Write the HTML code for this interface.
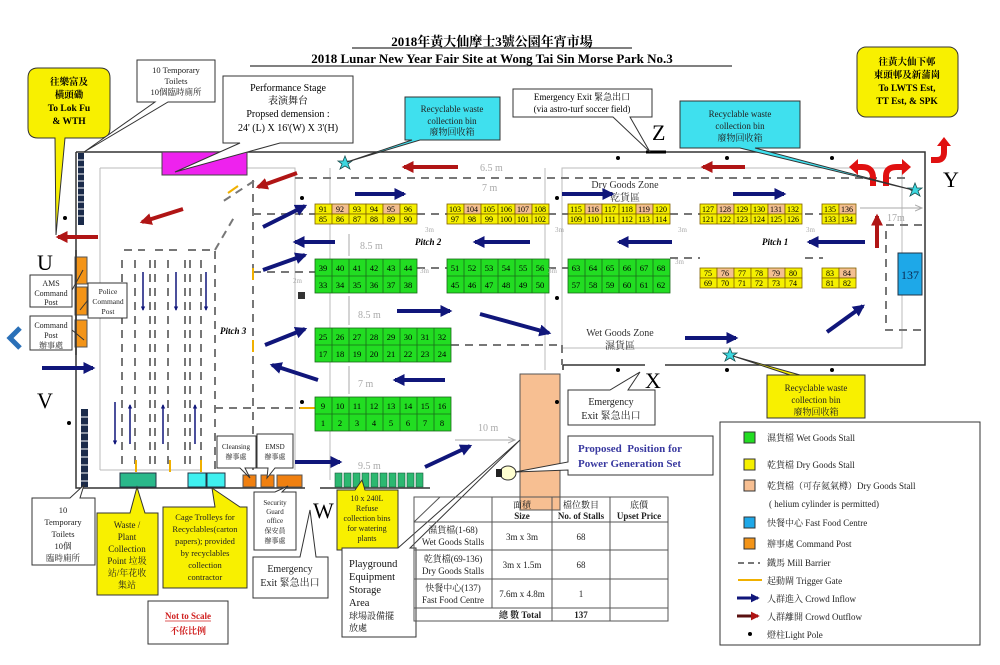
<!DOCTYPE html>
<html><head><meta charset="utf-8">
<style>
html,body{margin:0;padding:0;background:#fff;}
svg{display:block;}
text{font-family:"Liberation Serif","Noto Serif CJK SC","Noto Sans CJK TC",serif;}
.s{font-family:"Liberation Sans","Noto Sans CJK TC",sans-serif;}
.dc{font-size:8px;text-anchor:middle;}
.gc{font-size:8.5px;text-anchor:middle;}
</style></head><body>
<svg width="1000" height="665" viewBox="0 0 1000 665" xmlns="http://www.w3.org/2000/svg">
<defs>
<marker id="bh" viewBox="0 0 5 5" markerWidth="3" markerHeight="3" refX="4" refY="2.5" orient="auto" markerUnits="strokeWidth"><path d="M0,0 L5,2.5 L0,5 z" fill="#10167a"/></marker>
<marker id="rh" viewBox="0 0 5 5" markerWidth="3" markerHeight="3" refX="4" refY="2.5" orient="auto" markerUnits="strokeWidth"><path d="M0,0 L5,2.5 L0,5 z" fill="#b01515"/></marker>
<marker id="gh" markerWidth="8" markerHeight="8" refX="7" refY="4" orient="auto" markerUnits="userSpaceOnUse"><path d="M0,1 L7,4 L0,7" fill="none" stroke="#aaa" stroke-width="1"/></marker>
</defs>

<!-- Title -->
<text x="492" y="46" font-size="13" font-weight="bold" text-anchor="middle">2018年黃大仙摩士3號公園年宵市場</text>
<text x="492" y="63" font-size="13" font-weight="bold" text-anchor="middle">2018 Lunar New Year Fair Site at Wong Tai Sin Morse Park No.3</text>
<line x1="352" y1="48" x2="632" y2="48" stroke="#000" stroke-width="1"/>
<line x1="250" y1="66" x2="732" y2="66" stroke="#000" stroke-width="1"/>

<!-- Site boundary -->
<g stroke="#333" stroke-width="1.5" fill="none">
<polyline points="76,152 925,152 925,365 665,365"/>
<polyline points="645,365 563,365 563,370"/>
<polyline points="76,152 76,488 305,488"/>
<line x1="320" y1="488" x2="430" y2="488"/>
</g>
<g stroke="#bbb" stroke-width="1" fill="none">
<polyline points="100,168 162,168"/>
<polyline points="247,168 295,168 295,470"/>
<line x1="100" y1="168" x2="100" y2="470"/>
<line x1="100" y1="470" x2="200" y2="470"/>
<rect x="562" y="168" width="340" height="180"/>
<line x1="330" y1="168" x2="330" y2="480"/>
<line x1="545" y1="168" x2="545" y2="370"/>
</g>
<g stroke="#777" stroke-width="2" fill="none" stroke-dasharray="8,6">
<line x1="295" y1="178" x2="905" y2="178"/>
<line x1="254" y1="181" x2="222" y2="202"/>
<line x1="253" y1="180" x2="253" y2="272"/>
<line x1="253" y1="272" x2="315" y2="272"/>
<line x1="417" y1="268" x2="447" y2="268"/>
<line x1="548" y1="268" x2="568" y2="268"/>
<line x1="670" y1="258" x2="700" y2="258"/>
<line x1="805" y1="258" x2="823" y2="258"/>
<line x1="417" y1="214" x2="447" y2="214"/>
<line x1="548" y1="214" x2="568" y2="214"/>
<line x1="670" y1="214" x2="700" y2="214"/>
<line x1="805" y1="214" x2="823" y2="214"/>
<line x1="253" y1="214" x2="315" y2="214"/>
<line x1="451" y1="345" x2="562" y2="345"/>
<line x1="562" y1="345" x2="562" y2="365"/>
<polyline points="922,225 886,225 886,330 922,330"/>
<line x1="215" y1="408" x2="315" y2="408"/>
<line x1="253" y1="272" x2="253" y2="470"/>
<polyline points="122,260 122,470"/>
<polyline points="124,250 145,250"/>
<polyline points="155,250 180,250"/>
<polyline points="188,250 215,250 215,470"/>
<line x1="135" y1="260" x2="135" y2="470"/>
<line x1="150" y1="260" x2="150" y2="470"/>
<line x1="155" y1="260" x2="155" y2="470"/>
<line x1="168" y1="260" x2="168" y2="470"/>
<line x1="185" y1="260" x2="185" y2="470"/>
<line x1="190" y1="260" x2="190" y2="470"/>
<line x1="201" y1="260" x2="201" y2="470"/>
<line x1="215" y1="250" x2="236" y2="214"/>
<line x1="100" y1="318" x2="120" y2="300"/>
</g>
<g stroke="#f0b000" stroke-width="2">
<line x1="228" y1="193" x2="238" y2="186"/>
<line x1="253" y1="268" x2="253" y2="280"/>
<line x1="253" y1="340" x2="253" y2="352"/>
<line x1="136" y1="460" x2="136" y2="472"/>
<line x1="170" y1="460" x2="170" y2="472"/>
<line x1="201" y1="460" x2="201" y2="472"/>
<line x1="300" y1="408" x2="315" y2="408"/>
</g>

<rect x="162" y="152" width="85" height="23" fill="#ee22ee" stroke="#444" stroke-width="1"/>

<rect x="78" y="153" width="6" height="72" fill="#1a2a4a"/>
<g stroke="#fff" stroke-width="1"><line x1="78" y1="160" x2="84" y2="160"/><line x1="78" y1="167" x2="84" y2="167"/><line x1="78" y1="174" x2="84" y2="174"/><line x1="78" y1="181" x2="84" y2="181"/><line x1="78" y1="188" x2="84" y2="188"/><line x1="78" y1="195" x2="84" y2="195"/><line x1="78" y1="202" x2="84" y2="202"/><line x1="78" y1="209" x2="84" y2="209"/><line x1="78" y1="216" x2="84" y2="216"/></g>
<rect x="81" y="409" width="7" height="78" fill="#1a2a4a"/>
<g stroke="#fff" stroke-width="1"><line x1="81" y1="417" x2="88" y2="417"/><line x1="81" y1="425" x2="88" y2="425"/><line x1="81" y1="433" x2="88" y2="433"/><line x1="81" y1="441" x2="88" y2="441"/><line x1="81" y1="449" x2="88" y2="449"/><line x1="81" y1="457" x2="88" y2="457"/><line x1="81" y1="465" x2="88" y2="465"/><line x1="81" y1="473" x2="88" y2="473"/><line x1="81" y1="481" x2="88" y2="481"/></g>

<rect x="75" y="257" width="12" height="27" fill="#f39418" stroke="#555"/>
<rect x="75" y="287" width="12" height="28" fill="#f39418" stroke="#555"/>
<rect x="75" y="320" width="12" height="27" fill="#f39418" stroke="#555"/>
<line x1="76" y1="250" x2="76" y2="355" stroke="#333" stroke-width="1.5"/>

<g stroke="#806000" stroke-width="0.8">
<rect x="315" y="204" width="17" height="10" fill="#f5f000"/><rect x="332" y="204" width="17" height="10" fill="#f3bf90"/><rect x="349" y="204" width="17" height="10" fill="#f5f000"/><rect x="366" y="204" width="17" height="10" fill="#f5f000"/><rect x="383" y="204" width="17" height="10" fill="#f3bf90"/><rect x="400" y="204" width="17" height="10" fill="#f5f000"/>
<rect x="315" y="214" width="102" height="10" fill="#f5f000"/>
<rect x="447" y="204" width="17" height="10" fill="#f5f000"/><rect x="464" y="204" width="17" height="10" fill="#f3bf90"/><rect x="481" y="204" width="17" height="10" fill="#f5f000"/><rect x="498" y="204" width="17" height="10" fill="#f5f000"/><rect x="515" y="204" width="17" height="10" fill="#f3bf90"/><rect x="532" y="204" width="17" height="10" fill="#f5f000"/>
<rect x="447" y="214" width="102" height="10" fill="#f5f000"/>
<rect x="568" y="204" width="17" height="10" fill="#f5f000"/><rect x="585" y="204" width="17" height="10" fill="#f3bf90"/><rect x="602" y="204" width="17" height="10" fill="#f5f000"/><rect x="619" y="204" width="17" height="10" fill="#f5f000"/><rect x="636" y="204" width="17" height="10" fill="#f3bf90"/><rect x="653" y="204" width="17" height="10" fill="#f5f000"/>
<rect x="568" y="214" width="102" height="10" fill="#f5f000"/>
<rect x="700" y="204" width="17" height="10" fill="#f5f000"/><rect x="717" y="204" width="17" height="10" fill="#f3bf90"/><rect x="734" y="204" width="17" height="10" fill="#f5f000"/><rect x="751" y="204" width="17" height="10" fill="#f5f000"/><rect x="768" y="204" width="17" height="10" fill="#f3bf90"/><rect x="785" y="204" width="17" height="10" fill="#f5f000"/>
<rect x="700" y="214" width="102" height="10" fill="#f5f000"/>
<rect x="822" y="204" width="17" height="10" fill="#f5f000"/><rect x="839" y="204" width="17" height="10" fill="#f3bf90"/>
<rect x="822" y="214" width="34" height="10" fill="#f5f000"/>
<rect x="700" y="268" width="17" height="10" fill="#f5f000"/><rect x="717" y="268" width="17" height="10" fill="#f3bf90"/><rect x="734" y="268" width="17" height="10" fill="#f5f000"/><rect x="751" y="268" width="17" height="10" fill="#f5f000"/><rect x="768" y="268" width="17" height="10" fill="#f3bf90"/><rect x="785" y="268" width="17" height="10" fill="#f5f000"/>
<rect x="700" y="278" width="102" height="10" fill="#f5f000"/>
<rect x="822" y="268" width="17" height="10" fill="#f5f000"/><rect x="839" y="268" width="17" height="10" fill="#f3bf90"/>
<rect x="822" y="278" width="34" height="10" fill="#f5f000"/>
<path d="M332,214v10M349,214v10M366,214v10M383,214v10M400,214v10 M464,214v10M481,214v10M498,214v10M515,214v10M532,214v10 M585,214v10M602,214v10M619,214v10M636,214v10M653,214v10 M717,214v10M734,214v10M751,214v10M768,214v10M785,214v10 M839,214v10 M717,278v10M734,278v10M751,278v10M768,278v10M785,278v10 M839,278v10" fill="none"/>
</g>
<g class="dc">
<text x="323" y="212">91</text><text x="340" y="212">92</text><text x="357" y="212">93</text><text x="374" y="212">94</text><text x="391" y="212">95</text><text x="408" y="212">96</text>
<text x="323" y="222">85</text><text x="340" y="222">86</text><text x="357" y="222">87</text><text x="374" y="222">88</text><text x="391" y="222">89</text><text x="408" y="222">90</text>
<text x="455" y="212">103</text><text x="472" y="212">104</text><text x="489" y="212">105</text><text x="506" y="212">106</text><text x="523" y="212">107</text><text x="540" y="212">108</text>
<text x="455" y="222">97</text><text x="472" y="222">98</text><text x="489" y="222">99</text><text x="506" y="222">100</text><text x="523" y="222">101</text><text x="540" y="222">102</text>
<text x="576" y="212">115</text><text x="593" y="212">116</text><text x="610" y="212">117</text><text x="627" y="212">118</text><text x="644" y="212">119</text><text x="661" y="212">120</text>
<text x="576" y="222">109</text><text x="593" y="222">110</text><text x="610" y="222">111</text><text x="627" y="222">112</text><text x="644" y="222">113</text><text x="661" y="222">114</text>
<text x="708" y="212">127</text><text x="725" y="212">128</text><text x="742" y="212">129</text><text x="759" y="212">130</text><text x="776" y="212">131</text><text x="793" y="212">132</text>
<text x="708" y="222">121</text><text x="725" y="222">122</text><text x="742" y="222">123</text><text x="759" y="222">124</text><text x="776" y="222">125</text><text x="793" y="222">126</text>
<text x="830" y="212">135</text><text x="847" y="212">136</text><text x="830" y="222">133</text><text x="847" y="222">134</text>
<text x="708" y="276">75</text><text x="725" y="276">76</text><text x="742" y="276">77</text><text x="759" y="276">78</text><text x="776" y="276">79</text><text x="793" y="276">80</text>
<text x="708" y="286">69</text><text x="725" y="286">70</text><text x="742" y="286">71</text><text x="759" y="286">72</text><text x="776" y="286">73</text><text x="793" y="286">74</text>
<text x="830" y="276">83</text><text x="847" y="276">84</text><text x="830" y="286">81</text><text x="847" y="286">82</text>
</g>

<g fill="#22dd22" stroke="#1a6a1a" stroke-width="0.8">
<rect x="315" y="259" width="102" height="34"/><rect x="447" y="259" width="102" height="34"/><rect x="568" y="259" width="102" height="34"/>
<rect x="315" y="328" width="136" height="34"/><rect x="315" y="397" width="136" height="34"/>
<path fill="none" d="M315,276h102M447,276h102M568,276h102M315,345h136M315,414h136
M332,259v34M349,259v34M366,259v34M383,259v34M400,259v34
M464,259v34M481,259v34M498,259v34M515,259v34M532,259v34
M585,259v34M602,259v34M619,259v34M636,259v34M653,259v34
M332,328v34M349,328v34M366,328v34M383,328v34M400,328v34M417,328v34M434,328v34
M332,397v34M349,397v34M366,397v34M383,397v34M400,397v34M417,397v34M434,397v34"/>
</g>
<g class="gc">
<text x="323" y="271">39</text><text x="340" y="271">40</text><text x="357" y="271">41</text><text x="374" y="271">42</text><text x="391" y="271">43</text><text x="408" y="271">44</text>
<text x="323" y="288">33</text><text x="340" y="288">34</text><text x="357" y="288">35</text><text x="374" y="288">36</text><text x="391" y="288">37</text><text x="408" y="288">38</text>
<text x="455" y="271">51</text><text x="472" y="271">52</text><text x="489" y="271">53</text><text x="506" y="271">54</text><text x="523" y="271">55</text><text x="540" y="271">56</text>
<text x="455" y="288">45</text><text x="472" y="288">46</text><text x="489" y="288">47</text><text x="506" y="288">48</text><text x="523" y="288">49</text><text x="540" y="288">50</text>
<text x="576" y="271">63</text><text x="593" y="271">64</text><text x="610" y="271">65</text><text x="627" y="271">66</text><text x="644" y="271">67</text><text x="661" y="271">68</text>
<text x="576" y="288">57</text><text x="593" y="288">58</text><text x="610" y="288">59</text><text x="627" y="288">60</text><text x="644" y="288">61</text><text x="661" y="288">62</text>
<text x="323" y="340">25</text><text x="340" y="340">26</text><text x="357" y="340">27</text><text x="374" y="340">28</text><text x="391" y="340">29</text><text x="408" y="340">30</text><text x="425" y="340">31</text><text x="442" y="340">32</text>
<text x="323" y="357">17</text><text x="340" y="357">18</text><text x="357" y="357">19</text><text x="374" y="357">20</text><text x="391" y="357">21</text><text x="408" y="357">22</text><text x="425" y="357">23</text><text x="442" y="357">24</text>
<text x="323" y="409">9</text><text x="340" y="409">10</text><text x="357" y="409">11</text><text x="374" y="409">12</text><text x="391" y="409">13</text><text x="408" y="409">14</text><text x="425" y="409">15</text><text x="442" y="409">16</text>
<text x="323" y="426">1</text><text x="340" y="426">2</text><text x="357" y="426">3</text><text x="374" y="426">4</text><text x="391" y="426">5</text><text x="408" y="426">6</text><text x="425" y="426">7</text><text x="442" y="426">8</text>
</g>

<rect x="898" y="253" width="24" height="42" fill="#1ea8e8" stroke="#234" stroke-width="1"/>
<text x="910" y="279" font-size="12" text-anchor="middle" fill="#0a2a50">137</text>

<rect x="520" y="374" width="40" height="136" fill="#f7bf92" stroke="#555" stroke-width="1"/>

<g class="s" font-size="10" fill="#aaa">
<text x="480" y="171">6.5 m</text><text x="482" y="191">7 m</text>
<text x="360" y="249">8.5 m</text><text x="358" y="318">8.5 m</text><text x="358" y="387">7 m</text>
<text x="478" y="431">10 m</text><text x="358" y="469">9.5 m</text><text x="887" y="221">17m</text>
</g>
<g font-size="7" fill="#aaa"><text x="425" y="232">3m</text><text x="555" y="232">3m</text><text x="678" y="232">3m</text><text x="806" y="232">3m</text><text x="420" y="273">3m</text><text x="548" y="273">3m</text><text x="675" y="264">3m</text><text x="293" y="283">2m</text></g>
<g stroke="#aaa" stroke-width="1"><line x1="349" y1="234" x2="349" y2="256"/><line x1="349" y1="296" x2="349" y2="325"/><line x1="349" y1="366" x2="349" y2="394"/><line x1="455" y1="440" x2="515" y2="440" marker-end="url(#gh)"/><line x1="860" y1="208" x2="922" y2="208" marker-end="url(#gh)"/></g>

<text x="415" y="245" font-size="9" font-style="italic" font-weight="bold">Pitch 2</text>
<text x="762" y="245" font-size="9" font-style="italic" font-weight="bold">Pitch 1</text>
<text x="220" y="334" font-size="9" font-style="italic" font-weight="bold">Pitch 3</text>
<text x="625" y="188" font-size="10" text-anchor="middle" fill="#333">Dry Goods Zone</text>
<text x="625" y="201" font-size="10" text-anchor="middle" fill="#333">乾貨區</text>
<text x="620" y="336" font-size="10" text-anchor="middle" fill="#333">Wet Goods Zone</text>
<text x="620" y="349" font-size="10" text-anchor="middle" fill="#333">濕貨區</text>

<g fill="#000"><circle cx="65" cy="218" r="2"/><circle cx="302" cy="198" r="2"/><circle cx="557" cy="198" r="2"/><circle cx="557" cy="298" r="2"/><circle cx="618" cy="158" r="2"/><circle cx="727" cy="158" r="2"/><circle cx="832" cy="158" r="2"/><circle cx="69" cy="423" r="2"/><circle cx="302" cy="402" r="2"/><circle cx="618" cy="370" r="2"/><circle cx="727" cy="370" r="2"/><circle cx="832" cy="370" r="2"/><circle cx="557" cy="402" r="2"/></g>

<g stroke="#10167a" stroke-width="4" fill="none" marker-end="url(#bh)">
<line x1="355" y1="194" x2="404" y2="194"/><line x1="562" y1="194" x2="612" y2="194"/><line x1="733" y1="194" x2="784" y2="194"/>
<line x1="335" y1="242" x2="295" y2="242"/><line x1="530" y1="242" x2="475" y2="242"/><line x1="672" y1="242" x2="619" y2="242"/><line x1="865" y1="242" x2="809" y2="242"/>
<line x1="397" y1="311" x2="450" y2="311"/><line x1="480" y1="314" x2="549" y2="333"/>
<line x1="445" y1="380" x2="395" y2="380"/>
<line x1="685" y1="338" x2="736" y2="338"/>
<line x1="827" y1="332" x2="863" y2="306"/>
<line x1="263" y1="227" x2="305" y2="206"/><line x1="263" y1="270" x2="305" y2="255"/>
<line x1="265" y1="345" x2="305" y2="329"/><line x1="318" y1="380" x2="272" y2="365"/>
<line x1="295" y1="462" x2="340" y2="462"/><line x1="425" y1="467" x2="470" y2="446"/>
<line x1="42" y1="368" x2="93" y2="368"/>
</g>
<g stroke="#10167a" stroke-width="1.5" fill="none" marker-end="url(#bh)">
<line x1="143" y1="272" x2="143" y2="310"/><line x1="176" y1="272" x2="176" y2="310"/><line x1="206" y1="272" x2="206" y2="310"/>
<line x1="115" y1="402" x2="115" y2="444"/><line x1="130" y1="444" x2="130" y2="405"/><line x1="163" y1="444" x2="163" y2="405"/><line x1="195" y1="444" x2="195" y2="405"/>
</g>
<g stroke="#b01515" stroke-width="4" fill="none" marker-end="url(#rh)">
<line x1="98" y1="237" x2="58" y2="237"/><line x1="183" y1="209" x2="142" y2="222"/><line x1="297" y1="173" x2="258" y2="187"/>
<line x1="458" y1="167" x2="404" y2="167"/><line x1="745" y1="167" x2="703" y2="167"/><line x1="877" y1="248" x2="877" y2="216"/>
</g>
<g stroke="#e01010" stroke-width="6" fill="none">
<path d="M873,186 V178 Q873,167 862,167 H858"/><path d="M886,186 V176 Q886,167 897,167 H902"/><path d="M931,160 H937 Q944,160 944,152 V146"/>
</g>
<g fill="#e01010"><path d="M858,159 L849,167 L858,175 z"/><path d="M902,159 L911,167 L902,175 z"/><path d="M937,146 L944,137 L951,146 z"/></g>

<g fill="#3cd8e0" stroke="#1a5050" stroke-width="0.8">
<path d="M345,156 l2,5 5,0 -4,3 2,5 -5,-3 -5,3 2,-5 -4,-3 5,0z"/>
<path d="M915,183 l2,5 5,0 -4,3 2,5 -5,-3 -5,3 2,-5 -4,-3 5,0z"/>
<path d="M730,348 l2,5 5,0 -4,3 2,5 -5,-3 -5,3 2,-5 -4,-3 5,0z"/>
</g>

<rect x="120" y="473" width="36" height="14" fill="#2ab88a" stroke="#234"/>
<rect x="188" y="473" width="18" height="14" fill="#3ff0f0" stroke="#234"/><rect x="207" y="473" width="18" height="14" fill="#3ff0f0" stroke="#234"/>
<rect x="243" y="475" width="13" height="12" fill="#f08010" stroke="#555"/><rect x="261" y="475" width="13" height="12" fill="#f08010" stroke="#555"/><rect x="277" y="475" width="25" height="12" fill="#f08010" stroke="#555"/>
<g fill="#2cb870" stroke="#1a5a3a" stroke-width="0.6"><rect x="335" y="473" width="7" height="14"/><rect x="344" y="473" width="7" height="14"/><rect x="353" y="473" width="7" height="14"/><rect x="362" y="473" width="7" height="14"/><rect x="371" y="473" width="7" height="14"/><rect x="380" y="473" width="7" height="14"/><rect x="389" y="473" width="7" height="14"/><rect x="398" y="473" width="7" height="14"/><rect x="407" y="473" width="7" height="14"/><rect x="416" y="473" width="7" height="14"/></g>
<ellipse cx="508" cy="473" rx="8" ry="7" fill="#ffffd0" stroke="#333"/><rect x="496" y="469" width="6" height="8" fill="#222"/>
<rect x="298" y="292" width="7" height="7" fill="#333"/>
<path d="M20,328 L10,338 L20,348" stroke="#2a70b8" stroke-width="5" fill="none"/>

<g font-size="22"><text x="37" y="270">U</text><text x="37" y="408">V</text><text x="313" y="518">W</text><text x="645" y="388">X</text><text x="652" y="140">Z</text><text x="943" y="187">Y</text></g>
<line x1="646" y1="152" x2="666" y2="152" stroke="#000" stroke-width="3"/>

<g stroke="#333" stroke-width="1" fill="#fff">
<path d="M38,68 H100 Q110,68 110,78 V128 Q110,138 100,138 H65 L56,235 L55,138 H38 Q28,138 28,128 V78 Q28,68 38,68z" fill="#f8f000"/>
<path d="M137,60 H215 V102 H168 L84,152 L155,102 H137z"/>
<path d="M223,76 H353 V143 H280 L175,172 L240,143 H223z"/>
<path d="M405,97 H500 V140 H420 L347,162 L412,140 H405z" fill="#3fe0ee"/>
<path d="M513,89 H652 V117 H630 L650,152 L613,117 H513z"/>
<path d="M680,101 H800 V148 H755 L913,190 L740,148 H680z" fill="#3fe0ee"/>
<rect x="857" y="47" width="101" height="70" rx="9" fill="#f8f000"/>
<path d="M30,275 H72 V307 H30z"/><line x1="72" y1="290" x2="83" y2="270"/>
<path d="M88,283 H127 V318 H88z"/><line x1="88" y1="300" x2="80" y2="310"/>
<path d="M30,316 H72 V350 H30z"/><line x1="72" y1="330" x2="84" y2="340"/>
<path d="M32,498 H70 L84,485 L80,498 H95 V565 H32z"/>
<path d="M97,513 H130 L137,487 L145,513 H158 V595 H97z" fill="#f8f000"/>
<path d="M163,507 H215 L212,488 L240,507 H247 V588 H163z" fill="#f8f000"/>
<path d="M217,436 H256 V468 H245 L250,478 L240,468 H217z"/>
<path d="M257,434 H293 V468 H275 L267,478 L268,468 H257z"/>
<path d="M254,492 H275 L288,486 L282,492 H296 V550 H254z"/>
<path d="M253,557 H300 L310,510 L316,557 H328 V598 H253z"/>
<rect x="148" y="601" width="80" height="43"/>
<path d="M337,490 H355 L362,480 L365,490 H398 V550 H337z" fill="#f8f000"/>
<path d="M342,548 H398 L520,440 L410,548 H416 V637 H342z"/>
<path d="M568,390 H610 L640,372 L628,390 H655 V425 H568z"/>
<path d="M568,436 H713 V475 H568 V470 L515,472 L568,462z"/>
<path d="M767,375 H865 V418 H767z M790,375 L733,356 L800,375" fill="#f8f000"/>
<rect x="720" y="422" width="260" height="223"/>
</g>

<g class="s" font-weight="bold" font-size="9.5" text-anchor="middle">
<text x="69" y="85">往樂富及</text><text x="69" y="98">橫頭磡</text><text x="69" y="111">To Lok Fu</text><text x="69" y="124">&amp; WTH</text>
<text x="907" y="65">往黃大仙下邨</text><text x="907" y="78">東頭邨及新蒲崗</text><text x="907" y="91">To LWTS Est,</text><text x="907" y="104">TT Est, &amp; SPK</text>
</g>
<g class="s" font-size="8.5" text-anchor="middle" fill="#222">
<text x="176" y="73">10 Temporary</text><text x="176" y="84">Toilets</text><text x="176" y="95">10個臨時廁所</text>
<text x="63" y="513">10</text><text x="63" y="525">Temporary</text><text x="63" y="537">Toilets</text><text x="63" y="549">10個</text><text x="63" y="561">臨時廁所</text>
<text x="290" y="572" font-size="10">Emergency</text><text x="290" y="586" font-size="10">Exit 緊急出口</text>
<text x="611" y="405" font-size="10">Emergency</text><text x="611" y="419" font-size="10">Exit 緊急出口</text>
<text x="367" y="501" font-size="8">10 x 240L</text><text x="367" y="511" font-size="8">Refuse</text><text x="367" y="521" font-size="8">collection bins</text><text x="367" y="531" font-size="8">for watering</text><text x="367" y="541" font-size="8">plants</text>
</g>
<g class="s" font-size="10.5" fill="#111"><text x="349" y="567">Playground</text><text x="349" y="580">Equipment</text><text x="349" y="593">Storage</text><text x="349" y="606">Area</text><text x="349" y="619" font-size="9">球場設備擺</text><text x="349" y="631" font-size="9">放處</text></g>
<g font-size="10" text-anchor="middle">
<text x="288" y="91">Performance Stage</text><text x="288" y="104">表演舞台</text><text x="288" y="117">Propsed demension :</text><text x="288" y="131">24' (L) X 16'(W) X 3'(H)</text>
<text x="582" y="100" font-size="9">Emergency  Exit 緊急出口</text><text x="582" y="112" font-size="9">(via astro-turf soccer field)</text>
</g>
<g font-size="9" text-anchor="middle" fill="#222">
<text x="452" y="112">Recyclable waste</text><text x="452" y="124">collection bin</text><text x="452" y="135">廢物回收箱</text>
<text x="740" y="117">Recyclable waste</text><text x="740" y="129">collection bin</text><text x="740" y="141">廢物回收箱</text>
<text x="816" y="391">Recyclable waste</text><text x="816" y="403">collection bin</text><text x="816" y="415">廢物回收箱</text>
<text x="51" y="286" font-size="8">AMS</text><text x="51" y="296" font-size="8">Command</text><text x="51" y="305" font-size="8">Post</text>
<text x="108" y="294" font-size="7.5">Police</text><text x="108" y="304" font-size="7.5">Command</text><text x="108" y="314" font-size="7.5">Post</text>
<text x="51" y="328" font-size="8">Command</text><text x="51" y="338" font-size="8">Post</text><text x="51" y="348" font-size="8">辦事處</text>
<text x="127" y="528">Waste /</text><text x="127" y="540">Plant</text><text x="127" y="552">Collection</text><text x="127" y="564">Point 垃圾</text><text x="127" y="576">站/年花收</text><text x="127" y="588">集站</text>
<text x="205" y="520" font-size="8.5">Cage Trolleys for</text><text x="205" y="532" font-size="8.5">Recyclables(carton</text><text x="205" y="544" font-size="8.5">papers); provided</text><text x="205" y="556" font-size="8.5">by recyclables</text><text x="205" y="568" font-size="8.5">collection</text><text x="205" y="580" font-size="8.5">contractor</text>
<text x="236" y="449" font-size="7">Cleansing</text><text x="236" y="459" font-size="7">辦事處</text>
<text x="275" y="449" font-size="7">EMSD</text><text x="275" y="459" font-size="7">辦事處</text>
<text x="275" y="505" font-size="7">Security</text><text x="275" y="514" font-size="7">Guard</text><text x="275" y="523" font-size="7">office</text><text x="275" y="533" font-size="7">保安員</text><text x="275" y="543" font-size="7">辦事處</text>
<text x="188" y="619" fill="#d02020" font-weight="bold">Not to Scale</text><text x="188" y="634" fill="#d02020" font-weight="bold">不依比例</text>
</g>
<line x1="165" y1="621" x2="211" y2="621" stroke="#d02020" stroke-width="0.8"/>
<g font-size="11" font-weight="bold" fill="#3a3aa0"><text x="578" y="452" xml:space="preserve">Proposed  Position for</text><text x="578" y="467">Power Generation Set</text></g>

<g stroke="#555" stroke-width="1" fill="none">
<rect x="414" y="497" width="254" height="124"/>
<path d="M492,497V608M552,497V621M610,497V621M414,522H668M414,550H668M414,579H668M414,608H668"/>
<line x1="414" y1="522" x2="440" y2="497"/>
</g>
<g class="s" font-size="9" text-anchor="middle" fill="#222">
<text x="522" y="508">面積</text><text x="522" y="519" font-weight="bold">Size</text>
<text x="581" y="508">檔位數目</text><text x="581" y="519" font-weight="bold">No. of Stalls</text>
<text x="639" y="508">底價</text><text x="639" y="519" font-weight="bold">Upset Price</text>
<text x="453" y="533">濕貨檔(1-68)</text><text x="453" y="545">Wet Goods Stalls</text><text x="522" y="540">3m x 3m</text><text x="581" y="540">68</text>
<text x="453" y="562">乾貨檔(69-136)</text><text x="453" y="574">Dry Goods Stalls</text><text x="522" y="568">3m x 1.5m</text><text x="581" y="568">68</text>
<text x="453" y="591">快餐中心(137)</text><text x="453" y="603">Fast Food Centre</text><text x="522" y="597">7.6m x 4.8m</text><text x="581" y="597">1</text>
<text x="520" y="618" font-weight="bold">總 數 Total</text><text x="581" y="618" font-weight="bold">137</text>
</g>

<g stroke="#333" stroke-width="1">
<rect x="744" y="432" width="11" height="11" fill="#22dd22"/>
<rect x="744" y="459" width="11" height="11" fill="#f5f000"/>
<rect x="744" y="480" width="11" height="11" fill="#f7bf92"/>
<rect x="744" y="517" width="11" height="11" fill="#1ea8e8"/>
<rect x="744" y="538" width="11" height="11" fill="#f39418"/>
</g>
<line x1="738" y1="563" x2="760" y2="563" stroke="#777" stroke-width="2" stroke-dasharray="6,4"/>
<line x1="738" y1="580" x2="762" y2="580" stroke="#f0b000" stroke-width="2"/>
<line x1="737" y1="598" x2="758" y2="598" stroke="#10167a" stroke-width="3" marker-end="url(#bh)"/>
<line x1="737" y1="616" x2="758" y2="616" stroke="#5a1010" stroke-width="3" marker-end="url(#rh)"/>
<circle cx="750" cy="634" r="2" fill="#000"/>
<g font-size="9" fill="#222">
<text x="767" y="441">濕貨檔  Wet Goods Stall</text>
<text x="767" y="468">乾貨檔  Dry Goods Stall</text>
<text x="767" y="489">乾貨檔（可存氦氣樽）Dry Goods Stall</text>
<text x="769" y="507">( helium cylinder is permitted)</text>
<text x="767" y="526">快餐中心 Fast Food Centre</text>
<text x="767" y="547">辦事處 Command Post</text>
<text x="767" y="566">鐵馬 Mill Barrier</text>
<text x="767" y="584">起動閘  Trigger Gate</text>
<text x="767" y="602">人群進入 Crowd Inflow</text>
<text x="767" y="620">人群離開 Crowd Outflow</text>
<text x="767" y="638">燈柱Light Pole</text>
</g>
</svg>
</body></html>
